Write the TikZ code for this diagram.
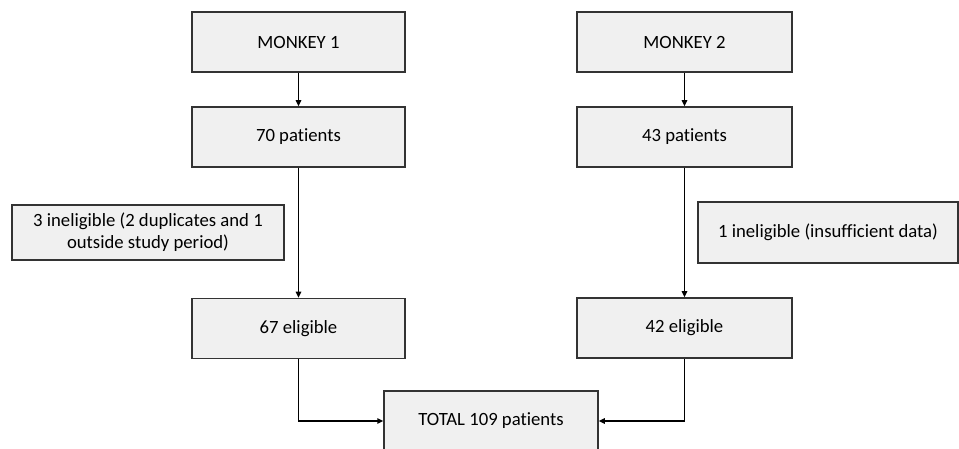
\documentclass[tikz,border=0pt]{standalone}
\usepackage{fontspec}
\setmainfont{Carlito}[Ligatures={NoCommon}]
\usetikzlibrary{arrows.meta}
\definecolor{boxfill}{HTML}{F0F0F0}
\definecolor{boxline}{HTML}{333333}
\tikzset{
  box/.style={draw=boxline, fill=boxfill, line width=1.5pt, inner sep=0pt,
    font=\fontsize{18.7}{22}\selectfont, align=center, text=black},
  conn/.style={line width=1.5pt, draw=black, -{Triangle[length=6pt,width=5.5pt]}}
}
\begin{document}
\begin{tikzpicture}[x=1pt,y=-1pt]
\useasboundingbox (0,0) rectangle (959,449);
\node[box, minimum width=213pt, minimum height=60pt] (m1) at (298.5,42) {MONKEY 1};
\node[box, minimum width=213pt, minimum height=60pt] (p1) at (298.5,137) {70 patients};
\node[box, minimum width=213pt, minimum height=60pt] (e1) at (298.5,328.5) {67 eligible};
\node[box, minimum width=215pt, minimum height=60pt] (m2) at (684.5,42) {MONKEY 2};
\node[box, minimum width=215pt, minimum height=60pt] (p2) at (684.5,137) {43 patients};
\node[box, minimum width=215pt, minimum height=60pt] (e2) at (684.5,328) {42 eligible};
\node[box, minimum width=272pt, minimum height=55pt] (i1) at (148,232.5) {3 ineligible (2 duplicates and 1\\outside study period)};
\node[box, minimum width=260pt, minimum height=61pt] (i2) at (828,232.5) {1 ineligible (insufficient data)};
\node[box, minimum width=214pt, minimum height=60pt] (t) at (491,421) {TOTAL 109 patients};
\draw[conn] (m1) -- (p1);
\draw[conn] (p1) -- (e1);
\draw[conn] (m2) -- (p2);
\draw[conn] (p2) -- (e2);
\draw[conn] (e1.south) |- (t.west);
\draw[conn] (e2.south) |- (t.east);
\end{tikzpicture}
\end{document}
